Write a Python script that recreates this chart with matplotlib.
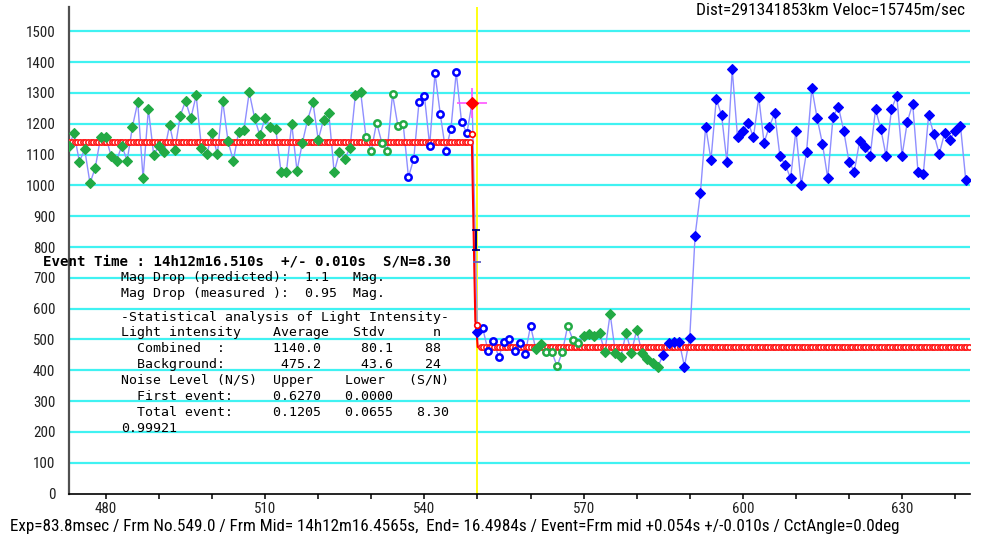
import matplotlib
matplotlib.use("Agg")
import matplotlib.pyplot as plt
from matplotlib import font_manager
import numpy as np

# light curve, one value per frame (473 .. 642)
frames = np.arange(473, 643)
left_vals = [1129, 1169, 1077, 1117, 1007, 1058, 1156, 1156, 1094, 1080,
             1129, 1080, 1191, 1270, 1023, 1248, 1099, 1129, 1110, 1196,
             1115, 1226, 1274, 1218, 1292, 1123, 1101, 1169, 1101, 1274,
             1144, 1080, 1173, 1180, 1302, 1220, 1162, 1220, 1189, 1183,
             1043, 1043, 1200, 1048, 1137, 1213, 1270, 1148, 1213, 1234,
             1043, 1108, 1086, 1123, 1294, 1302, 1156, 1113, 1204, 1137,
             1113, 1296, 1194, 1200, 1027, 1086, 1272, 1291, 1129, 1364,
             1231, 1113, 1183, 1367, 1207, 1169, 1269]
drop_vals = [523, 536, 463, 496, 444, 491, 501, 463, 490, 453,
             544, 468, 485, 460, 460, 413, 460, 544, 498, 488,
             511, 517, 511, 520, 460, 583, 455, 442, 522, 457,
             531, 455, 436, 425, 412, 450, 490, 493, 493, 412,
             506, 836]
right_vals = [975, 1191, 1083, 1281, 1227, 1075, 1377, 1156, 1177, 1204,
              1156, 1286, 1139, 1191, 1234, 1094, 1067, 1023, 1178, 1002,
              1108, 1316, 1218, 1135, 1023, 1223, 1256, 1178, 1077, 1045,
              1144, 1126, 1097, 1247, 1183, 1094, 1247, 1291, 1097, 1207,
              1265, 1045, 1037, 1227, 1166, 1102, 1169, 1148, 1177, 1194,
              1018]
values = np.array(left_vals + drop_vals + right_vals)

# point kind: G green filled, g green open, B blue filled, b blue open, R event frame
kinds = (['G'] * 56 + ['g'] * 8 + ['b'] * 12 + ['R'] + ['B'] + ['b'] * 10
         + ['G'] * 2 + ['g'] * 7 + ['G'] * 15 + ['B'] * 58)

combined_avg = 1140.0
background_avg = 475.2
step_x = [548.95, 549.6, 549.75, 550.05]
step_y = [1140, 560, 545, 475.2]
step_marks_x = [549.0, 549.9]
step_marks_y = [1167, 547]
event_frame = 549.94
err_frame = 549.75
err_lo, err_hi, err_tick = 790, 855, 752

xtick_vals = list(range(480, 641, 10))
ytick_vals = list(range(0, 1501, 100))

stats_lines = [
    "-Statistical analysis of Light Intensity-",
    "Light intensity    Average   Stdv      n",
    "  Combined  :      1140.0     80.1    88",
    "  Background:       475.2     43.6    24",
    "Noise Level (N/S)  Upper    Lower   (S/N)",
    "  First event:     0.6270   0.0000",
    "  Total event:     0.1205   0.0655   8.30",
    "0.99921",
]
mag_lines = [
    "Mag Drop (predicted):  1.1   Mag.",
    "Mag Drop (measured ):  0.95  Mag.",
]
event_text = "Event Time : 14h12m16.510s  +/- 0.010s  S/N=8.30"
top_text = "Dist=291341853km Veloc=15745m/sec"
bottom_text = ("Exp=83.8msec / Frm No.549.0 / Frm Mid= 14h12m16.4565s,  End= 16.4984s"
               " / Event=Frm mid +0.054s +/-0.010s / CctAngle=0.0deg")

W, H = 985, 537
names = {f.name for f in font_manager.fontManager.ttflist}
narrow = [n for n in ['Liberation Sans Narrow', 'Roboto Condensed',
                      'DejaVu Sans'] if n in names] or ['DejaVu Sans']
mono = ['DejaVu Sans Mono']

fig = plt.figure(figsize=(W / 100, H / 100), dpi=100)
ax = fig.add_axes([69.3 / W, 1 - 493.5 / H, (970 - 69.3) / W, (493.5 - 6.7) / H])
ax.set_xlim(473.1, 642.8)
ax.set_ylim(0, 1580)

ax.hlines(ytick_vals[1:], 473.1, 642.8, color='#40f2f2', lw=1.6, zorder=1)
ax.axvline(event_frame, color='#ffff00', lw=1.3, zorder=2)

# connecting line
ax.plot(frames, values, color='#8f8fff', lw=1.0, zorder=3)

# fitted step with red chain
ax.plot([473.1] + step_x + [642.8], [combined_avg] + step_y + [background_avg],
        color='red', lw=1.5, zorder=4)
ch1 = np.arange(473.1, 548.9, 0.5)
ch2 = np.arange(550.6, 642.8, 0.5)
for cx, cy in [(ch1, combined_avg), (ch2, background_avg)]:
    ax.plot(cx, np.full(len(cx), cy), ls='none', marker='o', ms=3.8,
            mfc='white', mec='#ff1a1a', mew=1.2, zorder=4)
ax.plot(step_marks_x, step_marks_y, ls='none', marker='o', ms=4,
        mfc='white', mec='red', mew=1.2, zorder=6)

green = '#22aa44'
blue = '#0000ff'
kinds = np.array(kinds)
styles = {
    'G': dict(marker='D', ms=5.4, mfc=green, mec=green, mew=0.8),
    'g': dict(marker='o', ms=4.6, mfc='white', mec=green, mew=1.8),
    'B': dict(marker='D', ms=5.4, mfc=blue, mec=blue, mew=0.8),
    'b': dict(marker='o', ms=4.6, mfc='white', mec=blue, mew=1.8),
    'R': dict(marker='D', ms=6, mfc='red', mec='red', mew=0.8),
}
for k, st in styles.items():
    m = kinds == k
    ax.plot(frames[m], values[m], ls='none', zorder=5, **st)
red_m = kinds == 'R'
ax.plot(frames[red_m], values[red_m], ls='none', marker='+', ms=22,
        mec='#ff55ff', mew=1.2, zorder=4)

# event error bar
ax.plot([err_frame, err_frame], [err_lo, err_hi], color='#000080', lw=1.5, zorder=6)
ax.plot([err_frame] * 2, [err_lo, err_hi], ls='none', marker='_', ms=6,
        mec='#000080', mew=1.3, zorder=6)
ax.plot([event_frame], [err_tick], ls='none', marker='_', ms=6,
        mec='#6060c0', mew=1.3, zorder=6)

for s in ['top', 'right']:
    ax.spines[s].set_visible(False)
ax.spines['left'].set_color('#505050')
ax.spines['left'].set_linewidth(1.6)
ax.spines['bottom'].set_color('black')
ax.spines['bottom'].set_linewidth(1.2)

ax.set_xticks(xtick_vals)
ax.set_xticklabels([str(v) if v % 30 == 0 else '' for v in xtick_vals])
ax.set_yticks(ytick_vals)
ax.set_yticklabels([str(v) for v in ytick_vals])
ax.tick_params(axis='x', direction='out', length=3.8, width=1.1, pad=2.4,
               colors='black')
ax.tick_params(axis='y', length=0, pad=10)
for lab in ax.get_xticklabels() + ax.get_yticklabels():
    lab.set_family(narrow)
    lab.set_fontstretch('condensed')
    lab.set_fontsize(10.8)
    lab.set_color('#202020')


def px(x, y):
    return x / W, 1 - y / H


fig.text(*px(42.7, 261.7), event_text, family=mono, weight='bold',
         fontsize=10.2, va='center', ha='left')
for i, line in enumerate(mag_lines):
    fig.text(*px(120.7, 277.3 + 16 * i), line, family=mono, fontsize=9.5,
             va='center', ha='left')
for i, line in enumerate(stats_lines):
    fig.text(*px(120.7, 317 + 15.9 * i), line, family=mono, fontsize=9.5,
             va='center', ha='left')

fig.text(*px(965, 10), top_text, family=narrow, stretch='condensed',
         fontsize=12.4, va='center', ha='right')
fig.text(*px(10, 527), bottom_text, family=narrow, stretch='condensed',
         fontsize=12.35, va='center', ha='left')

fig.savefig('out.png', dpi=100)
